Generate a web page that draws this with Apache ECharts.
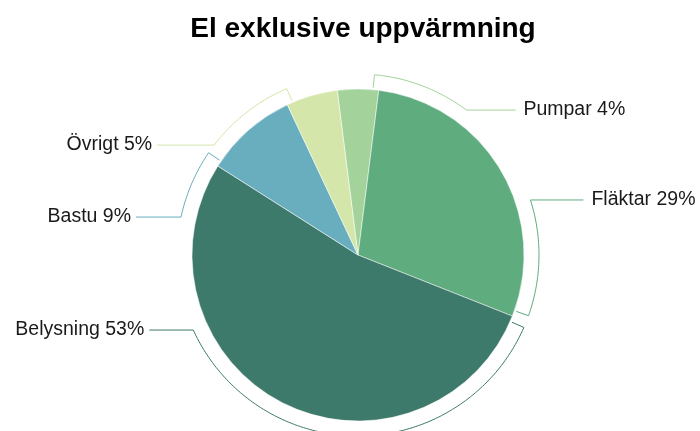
<!DOCTYPE html>
<html>
<head>
<meta charset="utf-8">
<script src="https://cdn.jsdelivr.net/npm/echarts@6/dist/echarts.min.js"></script>
<style>
  html, body { margin: 0; padding: 0; background: #fff; }
  #chart { width: 700px; height: 431px; }
</style>
</head>
<body>
<div id="chart"></div>
<script>
// Electricity use excluding heating, share per end use (%)
const categories = ['Pumpar', 'Fläktar', 'Belysning', 'Bastu', 'Övrigt'];
const shares = [4, 29, 53, 9, 5];
const sliceColors = ['#a3d39b', '#5fac7f', '#3e7a6b', '#68aebe', '#d4e6aa'];

// Where each label hangs around the pie (degrees, counter-clockwise from 3 o'clock)
// and how long its horizontal leader runs.
const labelAngles = [53.2, 17.7, 204.5, 167.9, 142.6];
const leaderLengths = [49, 53, 44, 45, 57];

const CX = 358, CY = 255;      // pie centre, px
const R = 166;                 // pie radius
const RING = 181;              // radius of the bracket arcs
const START = 97.2;            // angle of the first slice edge
const EDGE_GAP = 2;            // bracket ends sit this many degrees inside a slice
const FONT = '"Liberation Sans", Arial, Helvetica, sans-serif';

const total = shares.reduce((a, b) => a + b, 0);

function pt(r, deg) {
  const a = deg * Math.PI / 180;
  return [CX + r * Math.cos(a), CY - r * Math.sin(a)];
}

// slice edge angles, clockwise from START
const edges = [];
let acc = 0;
shares.forEach(v => {
  const a0 = START - acc / total * 360;
  acc += v;
  const a1 = START - acc / total * 360;
  edges.push([a0, a1]);
});

const chart = echarts.init(document.getElementById('chart'), null, { renderer: 'canvas' });

chart.setOption({
  backgroundColor: '#ffffff',
  animation: false,
  title: {
    text: 'El exklusive uppvärmning',
    left: 358,
    top: 10,
    textAlign: 'center',
    textStyle: { fontFamily: FONT, fontWeight: 'bold', fontSize: 28, color: '#000' }
  },
  series: [
    {
      type: 'pie',
      center: [CX, CY],
      radius: [0, R],
      startAngle: START,
      clockwise: true,
      label: { show: false },
      labelLine: { show: false },
      itemStyle: { borderColor: '#ffffff', borderWidth: 0.5 },
      emphasis: { disabled: true },
      data: categories.map((name, i) => ({
        name: name,
        value: shares[i],
        itemStyle: { color: sliceColors[i] }
      }))
    },
    {
      // bracket arc + leader + text for every slice
      type: 'custom',
      coordinateSystem: 'none',
      silent: true,
      data: categories.map((name, i) => [i]),
      renderItem: function (params) {
        const i = params.dataIndex;
        const [a0, a1] = edges[i];
        let la = labelAngles[i];
        const right = Math.cos(la * Math.PI / 180) > 0;
        const tick = right ? a1 + EDGE_GAP : a0 - EDGE_GAP;
        while (la - tick > 180) la -= 360;
        while (la - tick < -180) la += 360;

        const points = [pt(R + 2, tick)];
        const steps = Math.max(8, Math.ceil(Math.abs(la - tick)));
        for (let s = 0; s <= steps; s++) {
          points.push(pt(RING, tick + (la - tick) * s / steps));
        }
        const end = points[points.length - 1];
        const dir = right ? 1 : -1;
        const lx = end[0] + dir * leaderLengths[i];
        points.push([lx, end[1]]);

        return {
          type: 'group',
          children: [
            {
              type: 'polyline',
              shape: { points: points },
              style: { stroke: sliceColors[i], lineWidth: 1, fill: null }
            },
            {
              type: 'text',
              style: {
                x: lx + dir * (right ? 8 : 5),
                y: end[1],
                text: categories[i] + ' ' + shares[i] + '%',
                align: right ? 'left' : 'right',
                verticalAlign: 'middle',
                fill: '#1a1a1a',
                font: '19.5px ' + FONT
              }
            }
          ]
        };
      }
    }
  ]
});
</script>
</body>
</html>
